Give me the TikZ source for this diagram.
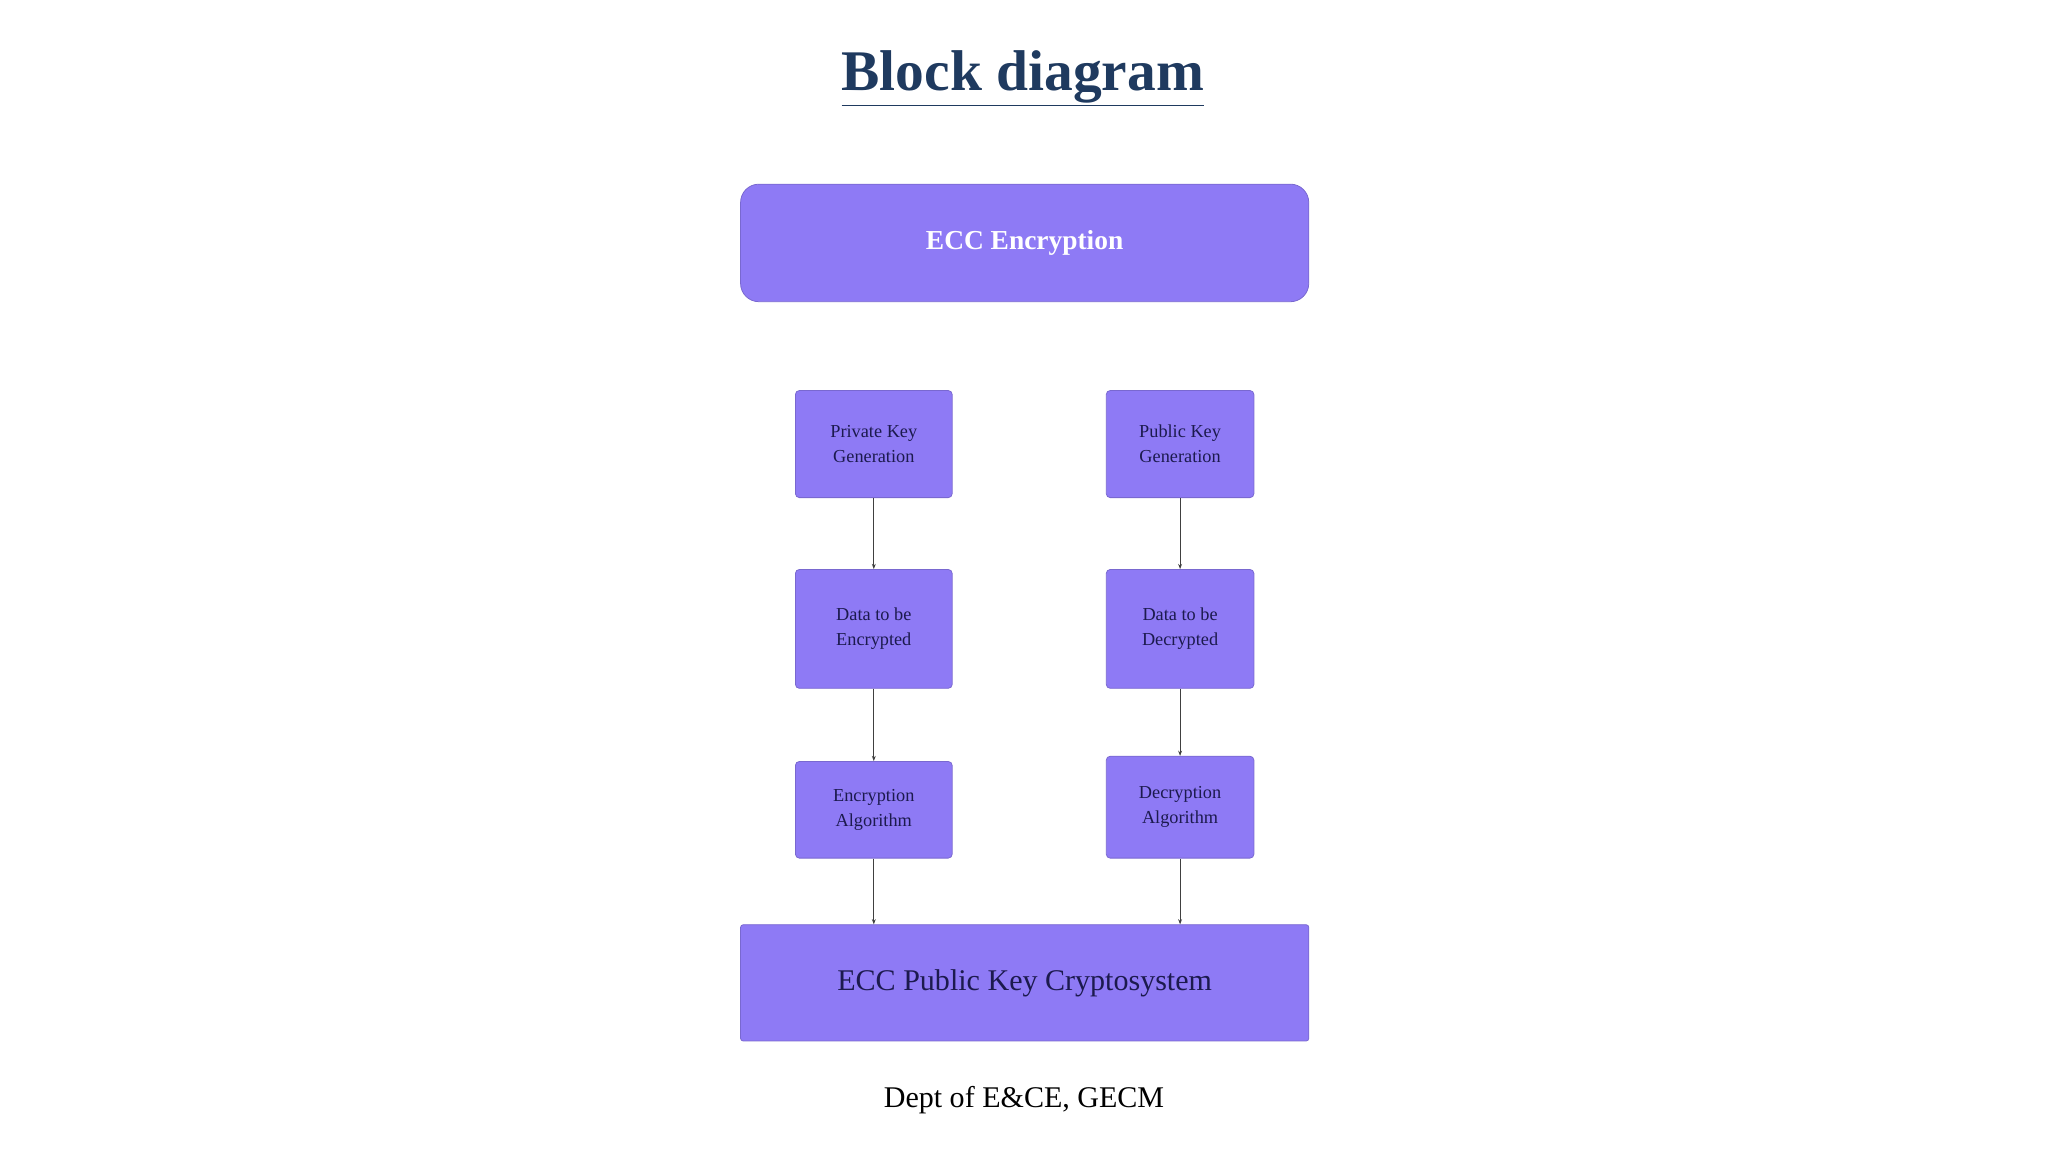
\documentclass[tikz,border=0pt]{standalone}
\usepackage{fontspec}
\setmainfont{Liberation Serif}
\usetikzlibrary{arrows.meta}
\definecolor{boxc}{HTML}{8E7AF5}
\definecolor{txt}{HTML}{1C1A4E}
\definecolor{titlec}{HTML}{1F3A5F}
\begin{document}
\begin{tikzpicture}[x=1pt,y=-1pt,
  sm/.style={draw=boxc!85!black,line width=0.6pt,fill=boxc,rounded corners=3pt,text=txt,align=center,font=\fontsize{14}{19}\selectfont,inner sep=0pt},
  arr/.style={draw=black!75,line width=0.9pt,-{Stealth[length=4pt,width=3pt]}}]
\useasboundingbox (0,0) rectangle (1568,882);
\node[font=\fontsize{44}{50}\selectfont\bfseries,text=titlec] (title) at (783,60) {\underline{Block diagram}};
\node[sm,rounded corners=14pt,minimum width=435pt,minimum height=90pt,text=white,font=\fontsize{21}{25}\selectfont\bfseries] (enc) at (784.5,186) {ECC Encryption};
\node[sm,minimum width=120pt,minimum height=82pt] (pk) at (669,340) {Private Key\\Generation};
\node[sm,minimum width=113pt,minimum height=82pt] (pub) at (903.5,340) {Public Key\\Generation};
\node[sm,minimum width=120pt,minimum height=91pt] (de) at (669,481.5) {Data to be\\Encrypted};
\node[sm,minimum width=113pt,minimum height=91pt] (dd) at (903.5,481.5) {Data to be\\Decrypted};
\node[sm,minimum width=120pt,minimum height=74pt] (ea) at (669,620) {Encryption\\Algorithm};
\node[sm,minimum width=113pt,minimum height=78pt] (da) at (903.5,618) {Decryption\\Algorithm};
\node[sm,rounded corners=2pt,minimum width=435pt,minimum height=89pt,font=\fontsize{23}{27}\selectfont] (sys) at (784.5,752.5) {ECC Public Key Cryptosystem};
\node[font=\fontsize{23}{27}\selectfont,text=black] (foot) at (784,842) {Dept of E\&CE, GECM};
\draw[arr] (pk) -- (de);
\draw[arr] (pub) -- (dd);
\draw[arr] (de) -- (ea);
\draw[arr] (dd) -- (da);
\draw[arr] (ea.south) -- (ea.south |- sys.north);
\draw[arr] (da.south) -- (da.south |- sys.north);
\end{tikzpicture}
\end{document}
